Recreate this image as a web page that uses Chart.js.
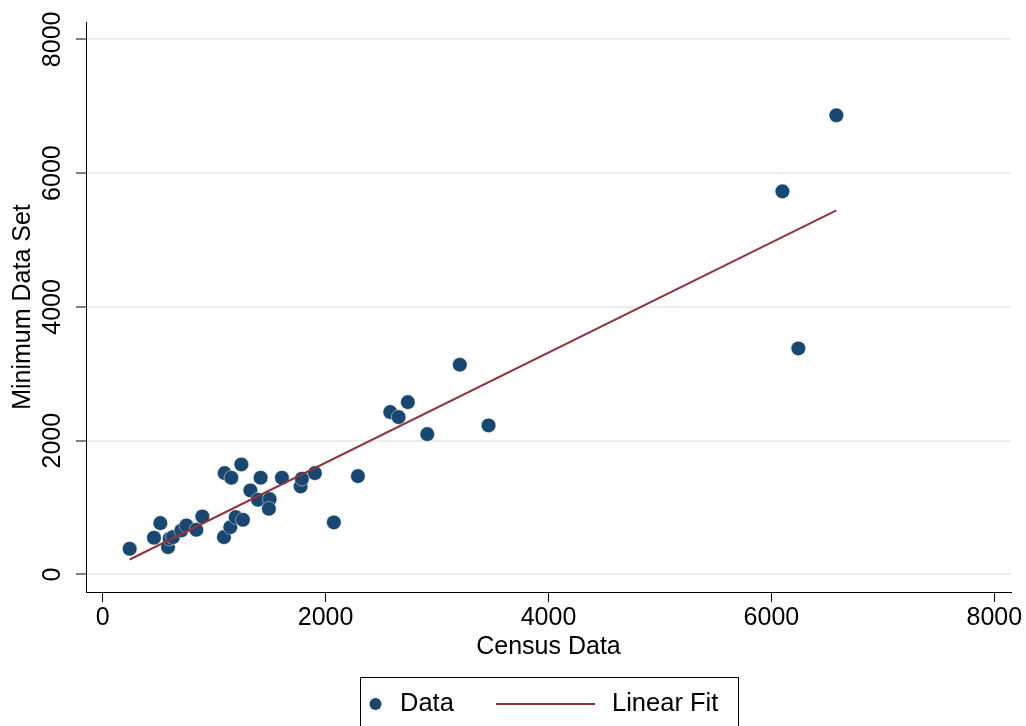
<!DOCTYPE html>
<html>
<head>
<meta charset="utf-8">
<title>Census vs Minimum Data Set</title>
<script src="https://cdn.jsdelivr.net/npm/chart.js@4.4.1/dist/chart.umd.min.js"></script>
<style>
  html, body { margin: 0; padding: 0; background: #fff; }
  #wrap { width: 1026px; height: 726px; position: relative; }
</style>
</head>
<body>
<div id="wrap"><canvas id="chart" width="1026" height="726"></canvas></div>
<script>
const censusData = [
  242, 460, 517, 586, 601, 630, 706, 751, 840, 894,
  1088, 1094, 1154, 1145, 1193, 1258, 1244, 1325, 1393, 1417,
  1498, 1491, 1608, 1776, 1787, 1904, 2074, 2290, 2580, 2655,
  2738, 2912, 3204, 3462, 6099, 6242, 6583,
];
const minimumData = [
  384, 549, 767, 408, 534, 558, 658, 733, 668, 867,
  558, 1515, 1446, 707, 857, 818, 1645, 1256, 1117, 1446,
  1126, 982, 1446, 1316, 1431, 1515, 778, 1470, 2427, 2352,
  2576, 2098, 3136, 2228, 5727, 3379, 6864,
];

// end points of the fitted line
const fitX = [242, 6583];
const fitY = [224, 5443];

const axisTicks = [0, 2000, 4000, 6000, 8000];

const NAVY = "#1a476f";
const MAROON = "#90353b";
const GRID = "#e9f0f2";
const FONT = '"Liberation Sans", Arial, Helvetica, sans-serif';

const scatterPoints = censusData.map((x, i) => ({ x, y: minimumData[i] }));
const fitPoints = fitX.map((x, i) => ({ x, y: fitY[i] }));

const fixedTicks = (scale) => {
  scale.ticks = axisTicks.map((value) => ({ value }));
};
const plainLabel = (value) => String(value);

// legend box under the plot
const legendBox = {
  id: "legendBox",
  afterDraw(chart) {
    const ctx = chart.ctx;
    const data = chart.data.datasets;
    const y = 704;
    ctx.save();
    ctx.strokeStyle = "#000";
    ctx.lineWidth = 1;
    ctx.strokeRect(360.5, 677.5, 378, 60);

    ctx.fillStyle = data[1].backgroundColor;
    ctx.beginPath();
    ctx.arc(375.5, y, 6, 0, Math.PI * 2);
    ctx.fill();

    ctx.strokeStyle = data[0].borderColor;
    ctx.lineWidth = 2;
    ctx.beginPath();
    ctx.moveTo(496, y);
    ctx.lineTo(595, y);
    ctx.stroke();

    ctx.fillStyle = "#000";
    ctx.font = "25.5px " + FONT;
    ctx.textBaseline = "middle";
    ctx.textAlign = "left";
    ctx.fillText(data[1].label, 400, y);
    ctx.fillText(data[0].label, 612, y);
    ctx.restore();
  },
};

const initChart = () => {
  const ctx = document.getElementById("chart").getContext("2d");
  new Chart(ctx, {
    type: "scatter",
    data: {
      datasets: [
        {
          type: "line",
          label: "Linear Fit",
          data: fitPoints,
          borderColor: MAROON,
          borderWidth: 2,
          pointRadius: 0,
          fill: false,
          order: 0,
        },
        {
          label: "Data",
          data: scatterPoints,
          backgroundColor: NAVY,
          borderColor: "rgba(255,255,255,0.55)",
          borderWidth: 0.8,
          pointRadius: 7.3,
          pointHoverRadius: 7.3,
          order: 1,
        },
      ],
    },
    options: {
      responsive: false,
      animation: false,
      events: [],
      layout: { padding: { left: 0, right: 15, top: 22, bottom: 0 } },
      plugins: {
        legend: { display: false },
        tooltip: { enabled: false },
      },
      scales: {
        x: {
          type: "linear",
          min: -150,
          max: 8150,
          afterBuildTicks: fixedTicks,
          afterFit: (scale) => { scale.height = 134; },
          border: { display: true, color: "#000", width: 1 },
          grid: {
            drawOnChartArea: false,
            drawTicks: true,
            tickLength: 10,
            tickColor: "#000",
            tickWidth: 1,
          },
          ticks: {
            padding: 1,
            color: "#000",
            maxRotation: 0,
            callback: plainLabel,
            font: { family: FONT, size: 25 },
          },
          title: {
            display: true,
            text: "Census Data",
            color: "#000",
            font: { family: FONT, size: 25 },
            padding: { top: 0, bottom: 64 },
          },
        },
        y: {
          type: "linear",
          min: -262,
          max: 8259,
          afterBuildTicks: fixedTicks,
          afterFit: (scale) => { scale.width = 86; },
          border: { display: true, color: "#000", width: 1 },
          grid: {
            color: GRID,
            lineWidth: 2,
            drawTicks: true,
            tickLength: 10,
            tickColor: "#000",
            tickWidth: 1,
          },
          ticks: {
            minRotation: 90,
            maxRotation: 90,
            crossAlign: "center",
            padding: -5,
            color: "#000",
            callback: plainLabel,
            font: { family: FONT, size: 25 },
          },
          title: {
            display: true,
            text: "Minimum Data Set",
            color: "#000",
            font: { family: FONT, size: 25 },
            padding: { top: 8, bottom: 0 },
          },
        },
      },
    },
    plugins: [legendBox],
  });
};

window.addEventListener("DOMContentLoaded", initChart);
</script>
</body>
</html>
